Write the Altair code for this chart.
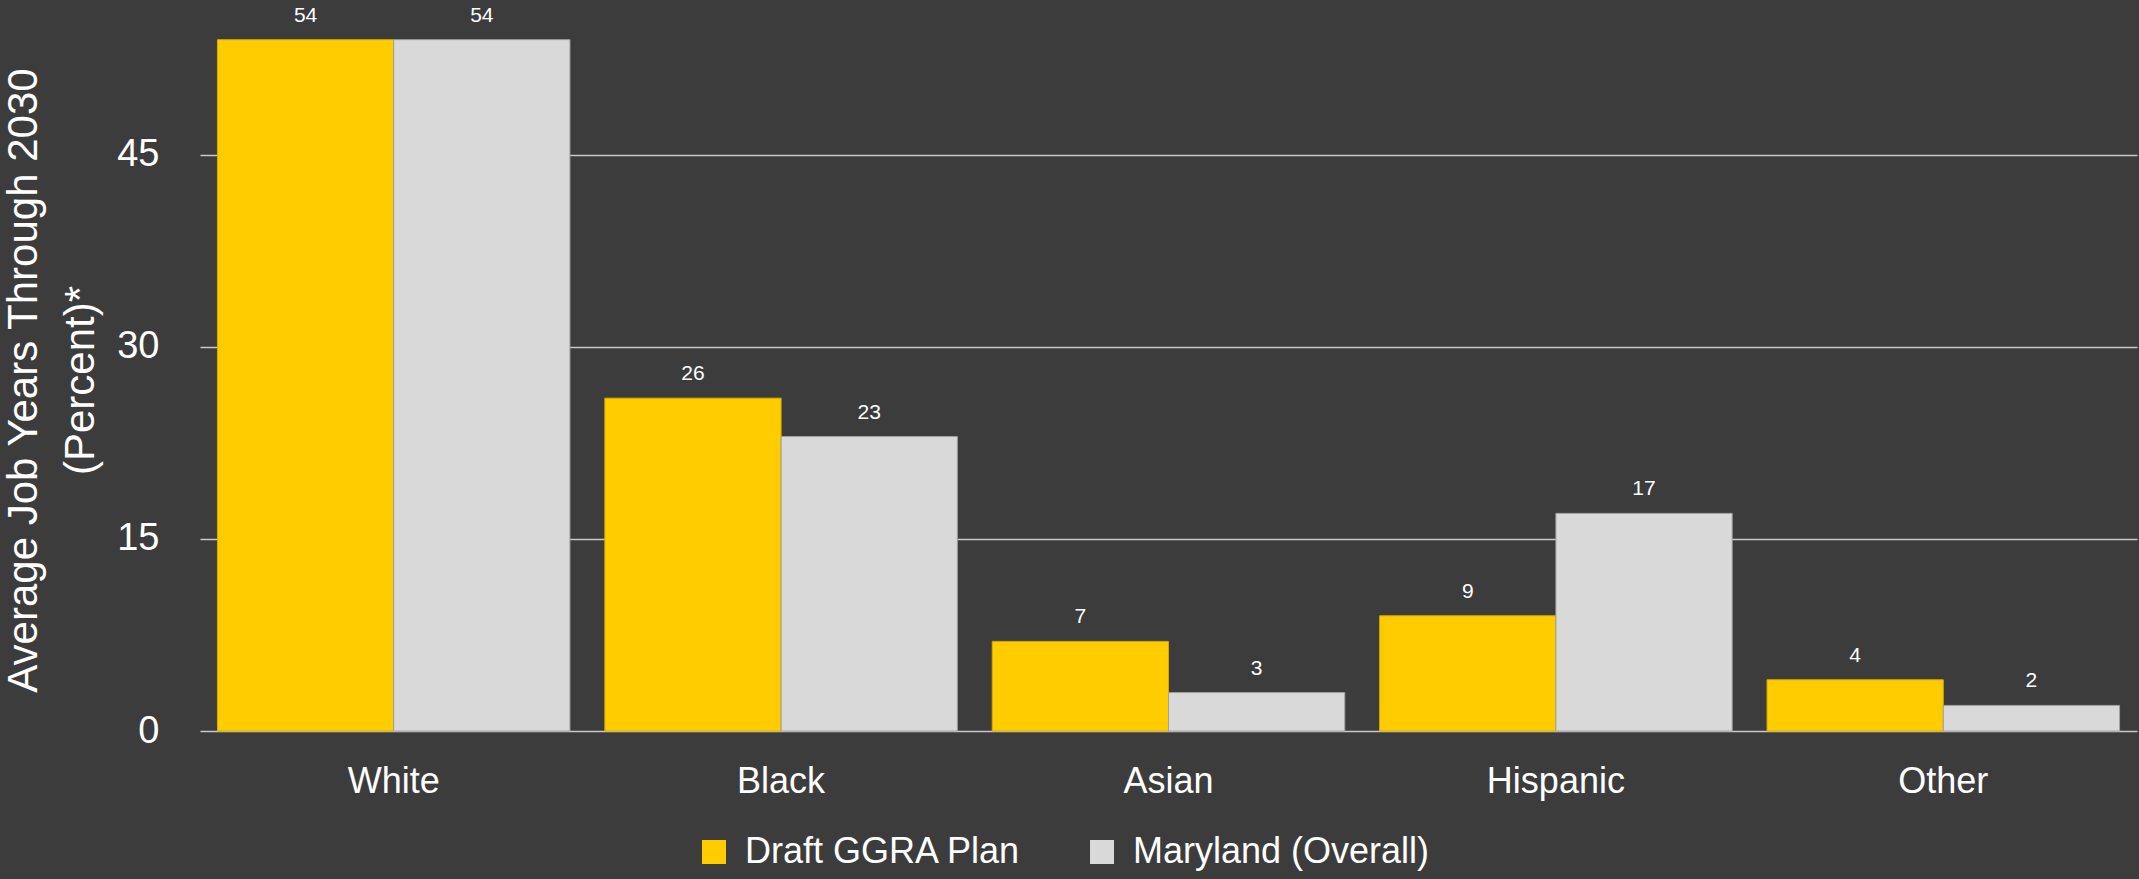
import altair as alt
import pandas as pd

categories = ["White", "Black", "Asian", "Hispanic", "Other"]
series_names = ["Draft GGRA Plan", "Maryland (Overall)"]
draft_values = [54, 26, 7, 9, 4]
maryland_values = [54, 23, 3, 17, 2]
y_ticks = [0, 15, 30, 45]

rows = []
for c, d, m in zip(categories, draft_values, maryland_values):
    rows.append({"group": c, "series": series_names[0], "value": d})
    rows.append({"group": c, "series": series_names[1], "value": m})
df = pd.DataFrame(rows)

FONT = "Liberation Sans"
BG = "#3c3c3c"

x_enc = alt.X(
    "group:N",
    sort=categories,
    scale=alt.Scale(paddingInner=0.09, paddingOuter=0.045),
    axis=alt.Axis(
        title=None,
        labelAngle=0,
        labelFontSize=36,
        labelColor="#ffffff",
        labelPadding=33,
        ticks=False,
        domain=False,
        grid=False,
        labelFont=FONT,
    ),
)
xoff = alt.XOffset("series:N", sort=series_names, scale=alt.Scale(paddingInner=0, paddingOuter=0))
y_enc = alt.Y(
    "value:Q",
    scale=alt.Scale(domain=[0, 57.1], nice=False, zero=True),
    axis=alt.Axis(
        title=["Average Job Years Through 2030", "(Percent)*"],
        titleFontSize=42,
        titleFontWeight="normal",
        titleColor="#ffffff",
        titleFont=FONT,
        titleLineHeight=57,
        titlePadding=14,
        titleY=380,
        values=y_ticks,
        labelFontSize=38,
        labelColor="#ffffff",
        labelPadding=41,
        labelFont=FONT,
        ticks=False,
        domain=False,
        grid=True,
        gridColor="#c8c8c8",
        gridWidth=1.6,
    ),
)

bars = alt.Chart(df).mark_bar(strokeWidth=1).encode(
    x=x_enc,
    xOffset=xoff,
    y=y_enc,
    color=alt.Color(
        "series:N",
        sort=series_names,
        scale=alt.Scale(domain=series_names, range=["#ffcc00", "#d9d9d9"]),
        legend=alt.Legend(
            title=None,
            orient="none",
            direction="horizontal",
            legendX=496,
            legendY=834,
            labelFontSize=36,
            labelColor="#ffffff",
            labelFont=FONT,
            labelLimit=600,
            symbolType="square",
            symbolSize=576,
            symbolStrokeWidth=0,
            symbolOpacity=1,
            labelOffset=13,
            columnPadding=62,
            padding=0,
        ),
    ),
    stroke=alt.Stroke(
        "series:N",
        sort=series_names,
        scale=alt.Scale(domain=series_names, range=["#d4ab00", "#a0a0a0"]),
        legend=None,
    ),
)

labels = alt.Chart(df).mark_text(
    baseline="alphabetic", align="center", dy=-18, fontSize=21, color="#ffffff", font=FONT
).encode(
    x=alt.X("group:N", sort=categories),
    xOffset=alt.XOffset("series:N", sort=series_names),
    y=alt.Y("value:Q"),
    text=alt.Text("value:Q"),
)

chart = (
    alt.layer(bars, labels)
    .properties(
        width=1937,
        height=731,
        background=BG,
        padding={"left": 200, "top": 0, "right": 2, "bottom": 148},
        autosize=alt.AutoSizeParams(type="none"),
    )
    .configure(font=FONT)
    .configure_view(stroke=None, strokeWidth=0, fill=BG)
)

chart.save("out.html", embed_options={"renderer": "svg", "actions": False})
